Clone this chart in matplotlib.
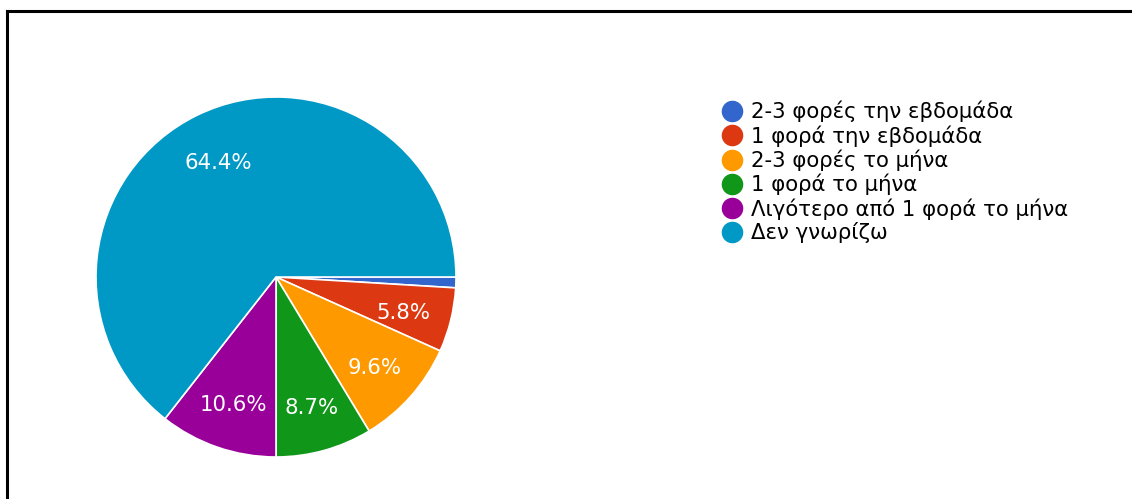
import matplotlib
matplotlib.use('Agg')
import matplotlib.pyplot as plt
from matplotlib.lines import Line2D

plt.rcParams['font.family'] = ['DejaVu Sans']

# Responses per answer (n = 104)
labels = [
    '2-3 φορές την εβδομάδα',
    '1 φορά την εβδομάδα',
    '2-3 φορές το μήνα',
    '1 φορά το μήνα',
    'Λιγότερο από 1 φορά το μήνα',
    'Δεν γνωρίζω',
]
counts = [1, 6, 10, 9, 11, 67]
colors = ['#3366cc', '#dc3912', '#ff9900', '#109618', '#990099', '#0099c6']

W, H = 1132, 499
fig = plt.figure(figsize=(W / 100, H / 100), dpi=100)

# pie axes: centre (276, 277) px, radius 180 px
cx, cy, r = 276, 277, 180
ax = fig.add_axes([(cx - r) / W, (H - cy - r) / H, 2 * r / W, 2 * r / H])


def pct_label(p):
    # small slices get no label
    return f'{p:.1f}%' if p >= 3 else ''


wedges, texts, autotexts = ax.pie(
    counts, colors=colors, startangle=0, counterclock=False,
    autopct=pct_label, pctdistance=0.73,
    wedgeprops=dict(edgecolor='white', linewidth=1.2),
    textprops=dict(color='white', fontsize=15.3),
)
for t in autotexts:
    t.set_va('center_baseline')
    x, y = t.get_position()
    t.set_position((x, y - 0.012))
ax.set_xlim(-1, 1)
ax.set_ylim(-1, 1)
ax.set_aspect('equal')
ax.axis('off')

handles = [Line2D([], [], marker='o', linestyle='none', markersize=14.5,
                  markerfacecolor=c, markeredgecolor=c) for c in colors]
fig.legend(handles, labels, loc='upper left',
           bbox_to_anchor=(721 / W, 1 - 101 / H), frameon=False,
           fontsize=15.3, labelspacing=0.13, handletextpad=0.4,
           handlelength=1.0, borderpad=0, borderaxespad=0)

# border lines along the top and left edges
fig.add_artist(Line2D([7 / W, 1], [1 - 11 / H, 1 - 11 / H],
                      color='black', linewidth=2.2))
fig.add_artist(Line2D([7 / W, 7 / W], [0, 1 - 11 / H],
                      color='black', linewidth=2.2))

fig.savefig('out.png', dpi=100, facecolor='white')
